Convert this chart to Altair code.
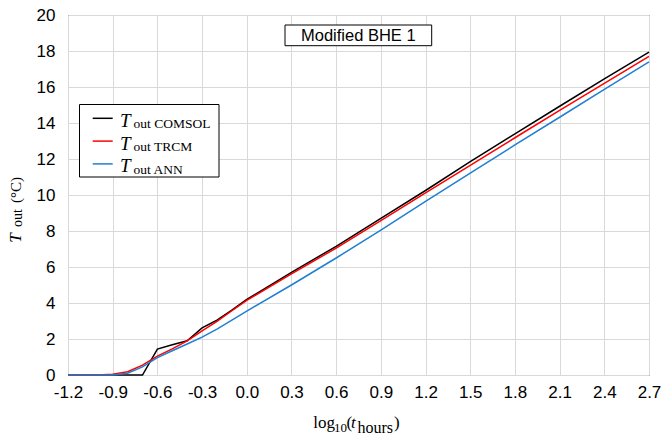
import altair as alt
import pandas as pd

# Outlet temperature vs log10 of elapsed time (hours)
series_names = ["COMSOL", "TRCM", "ANN"]
series_colors = ["#000000", "#ff0000", "#1f7fd2"]

x_comsol = [-1.2, -0.9, -0.7, -0.6, -0.5, -0.4, -0.3, -0.2, -0.1, 0.0, 0.3, 0.6, 0.9, 1.2, 1.5, 1.8, 2.1, 2.4, 2.7]
t_comsol = [0.0, 0.0, 0.0, 1.44, 1.68, 1.9, 2.62, 3.05, 3.6, 4.2, 5.7, 7.15, 8.7, 10.25, 11.85, 13.4, 14.93, 16.45, 17.94]

x_trcm = [-1.2, -1.0, -0.9, -0.8, -0.7, -0.6, -0.5, -0.4, -0.3, -0.2, -0.1, 0.0, 0.3, 0.6, 0.9, 1.2, 1.5, 1.8, 2.1, 2.4, 2.7]
t_trcm = [0.0, 0.0, 0.04, 0.18, 0.55, 1.05, 1.45, 1.9, 2.45, 2.98, 3.57, 4.15, 5.62, 7.05, 8.58, 10.12, 11.65, 13.18, 14.7, 16.2, 17.7]

x_ann = [-1.2, -0.9, -0.8, -0.7, -0.6, -0.5, -0.4, -0.3, -0.2, -0.1, 0.0, 0.3, 0.6, 0.9, 1.2, 1.5, 1.8, 2.1, 2.4, 2.7]
t_ann = [0.0, 0.0, 0.1, 0.45, 0.97, 1.35, 1.72, 2.1, 2.55, 3.05, 3.55, 5.0, 6.5, 8.05, 9.65, 11.22, 12.78, 14.32, 15.87, 17.4]

x_ticks = [-1.2, -0.9, -0.6, -0.3, 0.0, 0.3, 0.6, 0.9, 1.2, 1.5, 1.8, 2.1, 2.4, 2.7]
y_ticks = [0, 2, 4, 6, 8, 10, 12, 14, 16, 18, 20]

frames = []
for name, xs, ts in [("COMSOL", x_comsol, t_comsol), ("TRCM", x_trcm, t_trcm), ("ANN", x_ann, t_ann)]:
    frames.append(pd.DataFrame({"x": xs, "T": ts, "series": name}))
df = pd.concat(frames, ignore_index=True)

W, H = 581, 360
SERIF = "Liberation Serif"
SANS = "Liberation Sans"

lines = alt.Chart(df).mark_line(strokeWidth=1.5).encode(
    x=alt.X("x:Q",
            scale=alt.Scale(domain=[-1.2, 2.7], nice=False, zero=False),
            axis=alt.Axis(values=x_ticks, title=None, labelPadding=9, labelFlush=False,
                          labelOverlap=False,
                          labelExpr="(datum.value < 0 ? '-' : '') + format(abs(datum.value), '.1f')")),
    y=alt.Y("T:Q",
            scale=alt.Scale(domain=[0, 20], nice=False),
            axis=alt.Axis(values=y_ticks, title=None, labelPadding=13, labelFlush=False)),
    color=alt.Color("series:N", scale=alt.Scale(domain=series_names, range=series_colors), legend=None),
)

one = alt.Data(values=[{}])


def txt(s, x, y, size, style="normal", font=SERIF, align="left", baseline="alphabetic", angle=0):
    kw = dict(text=s, font=font, fontSize=size, fontStyle=style, align=align,
              baseline=baseline, color="#000000")
    if angle:
        kw["angle"] = angle
    return alt.Chart(one).mark_text(**kw).encode(x=alt.value(x), y=alt.value(y))


layers = [lines]

# title box
layers.append(alt.Chart(one).mark_rect(fill="white", stroke="#000000", strokeWidth=1).encode(
    x=alt.value(217), x2=alt.value(363.7), y=alt.value(10), y2=alt.value(30.7)))
layers.append(txt("Modified BHE 1", 290.3, 20.8, 16.5, font=SANS, align="center", baseline="middle"))

# legend box
layers.append(alt.Chart(one).mark_rect(fill="white", stroke="#000000", strokeWidth=1).encode(
    x=alt.value(11.5), x2=alt.value(151), y=alt.value(89.5), y2=alt.value(162)))
for i, (name, col) in enumerate(zip(series_names, series_colors)):
    ry = 103.3 + i * 22.8
    layers.append(alt.Chart(one).mark_rule(color=col, strokeWidth=1.5).encode(
        x=alt.value(24.7), x2=alt.value(44.7), y=alt.value(ry)))
    layers.append(txt("T", 52, ry + 8.4, 19, style="italic"))
    layers.append(txt("out " + name, 65.5, ry + 10, 13.5))

# y axis title: T_out (°C)
layers.append(txt("T", -47.5, 223, 17, style="italic", align="center", angle=270))
layers.append(txt("out", -46, 203, 14, align="center", angle=270))
layers.append(txt("(°C)", -47.5, 175, 15, align="center", angle=270))

# x axis title: log10(t_hours)
layers.append(txt("log", 245.3, 413.3, 17))
layers.append(txt("10", 266, 416.5, 13))
layers.append(txt("(", 278.5, 413.3, 17))
layers.append(txt("t", 283, 413.3, 17, style="italic"))
layers.append(txt("hours", 289.5, 417.5, 16))
layers.append(txt(")", 326, 413.3, 17))

chart = alt.layer(*layers).properties(
    width=W, height=H,
    autosize=alt.AutoSizeParams(type="none"),
    padding={"left": 68, "top": 15, "right": 13, "bottom": 60},
    background="white",
).configure_view(
    stroke="#333333", strokeWidth=1
).configure_axis(
    domain=False, ticks=False,
    grid=True, gridColor="#d9d9d9", gridWidth=1,
    labelFont=SANS, labelFontSize=17, labelColor="#000000",
)

chart.save("out.html", embed_options={"renderer": "svg", "actions": False})
